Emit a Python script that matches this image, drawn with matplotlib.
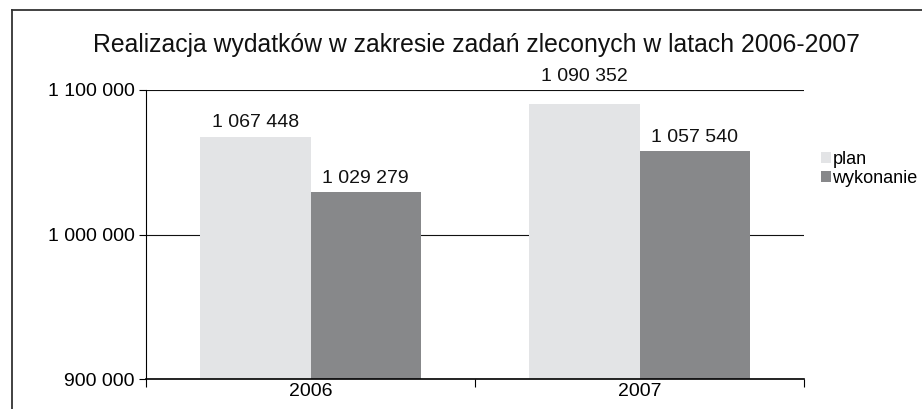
import matplotlib
matplotlib.use("Agg")
import matplotlib.pyplot as plt
import numpy as np
from matplotlib.ticker import FuncFormatter, FixedLocator
from matplotlib.lines import Line2D

years = ["2006", "2007"]
plan = [1067448, 1090352]
wykonanie = [1029279, 1057540]
series_names = ["plan", "wykonanie"]
title = "Realizacja wydatków w zakresie zadań zleconych w latach 2006-2007"

plt.rcParams['font.family'] = ['Liberation Sans', 'DejaVu Sans']

fig = plt.figure(figsize=(9.22, 4.09), dpi=100)
ax = fig.add_axes([146/922, 1-379/409, (804-146)/922, (379-90)/409])

def fmt(v):
    return f"{int(round(v)):,}".replace(",", " ")

YMIN, YMAX = 900000, 1100000
x = np.arange(len(years))
w = 0.335
b1 = ax.bar(x - w/2, plan, w, color="#e3e4e6", label=series_names[0], zorder=2)
b2 = ax.bar(x + w/2, wykonanie, w, color="#87888a", label=series_names[1], zorder=2)
for bars, vals in ((b1, plan), (b2, wykonanie)):
    for r, v in zip(bars, vals):
        # label moved above the top gridline when it would collide with it
        off = 13.5 if v > YMAX - 15000 else 4
        ax.annotate(fmt(v), (r.get_x() + r.get_width()/2, v), xytext=(0, off),
                    textcoords="offset points", ha="center", va="bottom",
                    fontsize=14, color="#111111", annotation_clip=False)

ax.set_xlim(-0.5, 1.5)
ax.set_ylim(YMIN, YMAX)
ax.yaxis.set_major_locator(FixedLocator([900000, 1000000, 1100000]))
ax.yaxis.set_major_formatter(FuncFormatter(lambda v, p: fmt(v)))
ax.set_xticks(x)
ax.set_xticklabels(years)
ax.set_xticks([-0.5, 0.5, 1.5], minor=True)
ax.tick_params(axis="x", which="major", length=0, labelsize=14, pad=3)
ax.tick_params(axis="x", which="minor", length=6, direction="out", width=0.8)
ax.tick_params(axis="y", length=5, direction="out", labelsize=14, width=0.8, pad=3)
ax.grid(axis="y", color="#111111", linewidth=0.8, zorder=0)
for s in ("top", "right"):
    ax.spines[s].set_visible(False)
ax.spines["left"].set_linewidth(0.8)
ax.spines["bottom"].set_linewidth(1.2)

fig.text(476/922, 1-45/409, title, ha="center", va="center", fontsize=17.8, color="#111111")

leg = fig.legend(handles=[b1, b2], labels=series_names, loc="upper left",
                 bbox_to_anchor=(821/922, 1-151/409), frameon=False, fontsize=13,
                 handlelength=0.55, handleheight=0.55, handletextpad=0.08,
                 labelspacing=0.1, borderaxespad=0, borderpad=0)

fig.add_artist(Line2D([12/922, 1], [1-10/409, 1-10/409], color="#333333", lw=1.3))
fig.add_artist(Line2D([12/922, 12/922], [0, 1-10/409], color="#333333", lw=1.3))

fig.savefig("out.png", dpi=100)
